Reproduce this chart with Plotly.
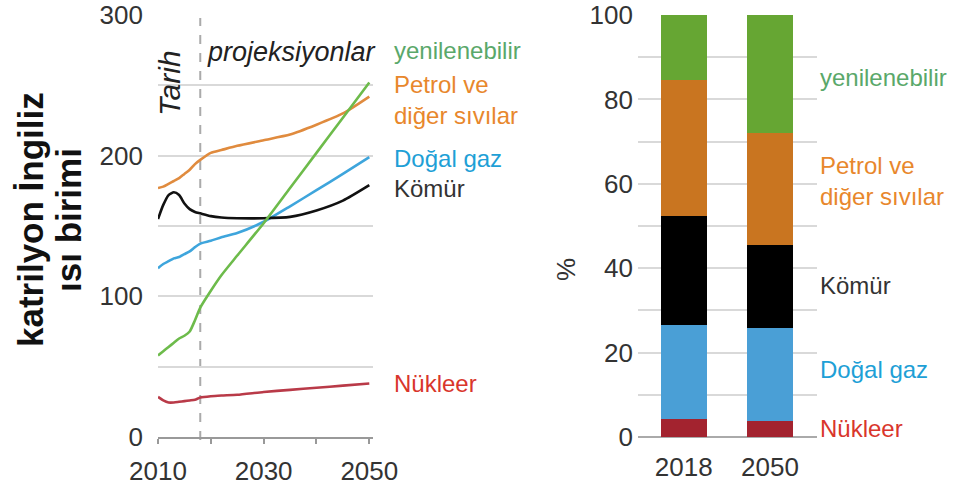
import plotly.graph_objects as go

# ---------------- data ----------------
years = [2010, 2011, 2012, 2013, 2014, 2015, 2016, 2017, 2018, 2020, 2022, 2025, 2030, 2035, 2040, 2045, 2050]
petrol = [177, 178, 180, 182, 184, 187, 190, 194, 197, 202, 204, 207, 211, 215, 222, 230, 242]
coal = [155, 165, 172, 174, 172, 166, 162, 160, 159, 157, 156, 155.5, 155.5, 156.5, 161, 168, 179]
gas = [120, 123, 125, 127, 128, 130, 132, 135, 137.5, 139.5, 142, 145, 153, 164, 175.5, 187, 199]
renew = [58, 61, 64, 67, 70, 72, 75, 83, 92, 104, 115, 129, 152, 177, 202, 227, 252]
nuclear = [28.5, 26, 24.5, 24.5, 25, 25.5, 26, 26.5, 28, 29, 29.5, 30, 32, 33.5, 35, 36.5, 38]
projection_start = 2018

bar_years = ["2018", "2050"]
bar_nuclear = [4.3, 3.9]
bar_gas = [22.2, 21.9]
bar_coal = [25.9, 19.7]
bar_petrol = [32.2, 26.6]
bar_renew = [15.4, 27.9]

left_ticks = [2010, 2030, 2050]

# ---------------- styling ----------------
W, H = 953, 491
FONT = "Liberation Sans, Arial, Helvetica, sans-serif"
GRID = "#d9d9d9"
TICK = "#333333"

def px_x(p):
    return p / W

def px_y(p):
    return 1 - p / H

line_cols = dict(renew="#6dbb4b", petrol="#e08b3e", gas="#3ea5dc", coal="#111111", nuclear="#b93a48")
lab_cols = dict(renew="#5aa86a", petrol="#e8872c", gas="#1ea0d6", coal="#333333", nuclear="#d9362c")
bar_cols = dict(renew="#66a633", petrol="#c97520", gas="#4a9fd6", coal="#000000", nuclear="#a3232f")

fig = go.Figure()

for name, vals in [("nuclear", nuclear), ("gas", gas), ("coal", coal), ("petrol", petrol), ("renew", renew)]:
    fig.add_trace(go.Scatter(
        x=years, y=vals, mode="lines", xaxis="x", yaxis="y",
        line=dict(color=line_cols[name], width=2.6, shape="spline", smoothing=0.6),
        showlegend=False, hoverinfo="skip"))

for name, vals in [("nuclear", bar_nuclear), ("gas", bar_gas), ("coal", bar_coal), ("petrol", bar_petrol), ("renew", bar_renew)]:
    fig.add_trace(go.Bar(
        x=bar_years, y=vals, xaxis="x2", yaxis="y2", width=0.533,
        marker=dict(color=bar_cols[name], line=dict(width=0)),
        showlegend=False, hoverinfo="skip"))

y_dom = [px_y(437), px_y(15)]

fig.update_layout(
    width=W, height=H,
    margin=dict(l=0, r=0, t=0, b=0, autoexpand=False),
    paper_bgcolor="white", plot_bgcolor="white",
    barmode="stack",
    font=dict(family=FONT, color=TICK),
    xaxis=dict(domain=[px_x(158), px_x(373)], range=[2010, 2050.7], automargin=False,
               tickvals=left_ticks, ticks="outside", ticklen=5, tickwidth=2, tickcolor="#999999",
               minor=dict(dtick=10, tick0=2010, ticks="outside", ticklen=5, tickwidth=2, tickcolor="#999999"),
               showgrid=False, zeroline=False, showline=True, linecolor="#999999", linewidth=2,
               tickfont=dict(size=26, color=TICK), ticklabelstandoff=5, anchor="y"),
    yaxis=dict(domain=y_dom, range=[0, 300], dtick=100, showgrid=True, gridcolor=GRID, gridwidth=1.5,
               minor=dict(dtick=50, showgrid=True, gridcolor=GRID, gridwidth=1.5), automargin=False,
               zeroline=False, showline=False, ticks="",
               tickfont=dict(size=26, color=TICK), ticklabelstandoff=14, anchor="x"),
    xaxis2=dict(domain=[px_x(638), px_x(817)], type="category", range=[-0.53, 1.545], automargin=False,
                showgrid=False, zeroline=False, showline=False, ticks="",
                tickfont=dict(size=26, color=TICK), ticklabelstandoff=12, anchor="y2"),
    yaxis2=dict(domain=y_dom, range=[0, 100], dtick=20, showgrid=True, gridcolor=GRID, gridwidth=1.5,
                minor=dict(dtick=10, showgrid=True, gridcolor=GRID, gridwidth=1.5), automargin=False,
                zeroline=True, zerolinecolor="#aaaaaa", zerolinewidth=2, showline=False, ticks="",
                tickfont=dict(size=26, color=TICK), ticklabelstandoff=4, anchor="x2"),
)

# projection divider
fig.add_shape(type="line", xref="x", yref="paper", x0=projection_start, x1=projection_start,
              y0=px_y(440), y1=px_y(18), line=dict(color="#aaaaaa", width=2, dash="dash"), layer="below")

ann = []
# y-axis title (two lines)
for txt, xp in [("<b>katrilyon İngiliz</b>", 30), ("<b>ısı birimi</b>", 68)]:
    ann.append(dict(text=txt, xref="paper", yref="paper",
                    x=px_x(xp), y=px_y(220), textangle=-90, showarrow=False,
                    font=dict(size=35, color="#111111", family=FONT), xanchor="center", yanchor="middle"))
ann.append(dict(text="<i>Tarih</i>", xref="paper", yref="paper", x=px_x(169), y=px_y(83),
                textangle=-90, showarrow=False, font=dict(size=30, color="#222222"),
                xanchor="center", yanchor="middle"))
ann.append(dict(text="<i>projeksiyonlar</i>", xref="paper", yref="paper", x=px_x(205), y=px_y(52),
                showarrow=False, font=dict(size=27, color="#222222"), xanchor="left", yanchor="middle"))
ann.append(dict(text="%", xref="paper", yref="paper", x=px_x(566), y=px_y(270), textangle=-90,
                showarrow=False, font=dict(size=26, color="#333333"), xanchor="center", yanchor="middle"))

left_labels = [("yenilenebilir", "renew", 50), ("Petrol ve<br>diğer sıvılar", "petrol", 100),
               ("Doğal gaz", "gas", 158), ("Kömür", "coal", 188), ("Nükleer", "nuclear", 383)]
for txt, key, yp in left_labels:
    ann.append(dict(text=txt, xref="paper", yref="paper", x=px_x(392), y=px_y(yp), showarrow=False,
                    font=dict(size=24, color=lab_cols[key]), xanchor="left", yanchor="middle", align="left"))

right_labels = [("yenilenebilir", "renew", 78), ("Petrol ve<br>diğer sıvılar", "petrol", 181),
                ("Kömür", "coal", 285), ("Doğal gaz", "gas", 369), ("Nükleer", "nuclear", 428)]
for txt, key, yp in right_labels:
    ann.append(dict(text=txt, xref="paper", yref="paper", x=px_x(818), y=px_y(yp), showarrow=False,
                    font=dict(size=24, color=lab_cols[key]), xanchor="left", yanchor="middle", align="left"))

fig.update_layout(annotations=ann)

fig.write_html("out.html", config={"displayModeBar": False},
               post_script="document.body.style.margin='0';document.body.style.overflow='hidden';")
